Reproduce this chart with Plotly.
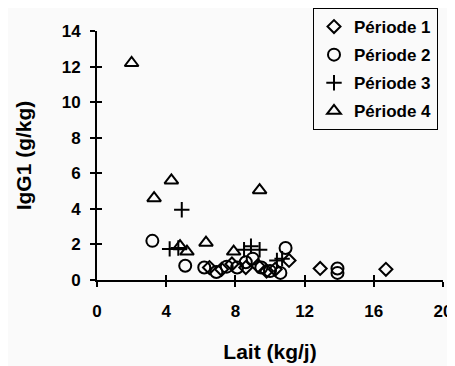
import plotly.graph_objects as go

# Période 1 (diamonds)
p1_x = [6.5, 7.2, 7.8, 8.6, 9.3, 9.8, 10.3, 11.1, 12.9, 16.7]
p1_y = [0.7, 0.6, 0.9, 0.7, 0.8, 0.5, 0.6, 1.1, 0.65, 0.6]
# Période 2 (circles)
p2_x = [3.2, 5.1, 6.2, 6.9, 7.5, 8.1, 8.6, 9.0, 9.5, 10.0, 10.6, 10.9, 13.9, 13.9]
p2_y = [2.2, 0.8, 0.7, 0.45, 0.75, 0.7, 1.0, 1.2, 0.7, 0.5, 0.4, 1.8, 0.65, 0.4]
# Période 3 (crosses)
p3_x = [4.2, 4.7, 4.9, 8.5, 8.9, 9.4, 10.4, 10.7]
p3_y = [1.75, 1.8, 3.95, 1.7, 1.9, 1.7, 1.1, 1.2]
# Période 4 (triangles)
p4_x = [2.0, 3.3, 4.3, 4.8, 5.2, 6.3, 7.9, 9.4]
p4_y = [12.2, 4.6, 5.6, 1.9, 1.6, 2.1, 1.6, 5.05]

names = ["Période 1", "Période 2", "Période 3", "Période 4"]
x_ticks = [0, 4, 8, 12, 16, 20]
y_ticks = [0, 2, 4, 6, 8, 10, 12, 14]

FONT = "Liberation Sans, Arial, sans-serif"

fig = go.Figure()
series = [
    (p1_x, p1_y, "diamond-open", 10),
    (p2_x, p2_y, "circle-open", 12),
    (p3_x, p3_y, "cross-thin-open", 11),
    (p4_x, p4_y, "triangle-up-open", 12),
]
for i, (xs, ys, sym, sz) in enumerate(series):
    fig.add_trace(go.Scatter(
        x=xs, y=ys, mode="markers", name=names[i], legendgroup=f"g{i}",
        marker=dict(symbol=sym, size=sz, color="black", line=dict(width=2, color="black")),
        cliponaxis=False,
    ))

axis_common = dict(
    showline=True, linecolor="black", linewidth=2,
    ticks="outside", ticklen=5, tickwidth=2, tickcolor="black",
    showgrid=False, zeroline=False, automargin=False,
    tickfont=dict(family=FONT, size=17, color="black", weight="bold"),
)

fig.update_layout(
    width=447, height=358,
    margin=dict(l=89, r=12, t=23, b=86, autoexpand=False),
    paper_bgcolor="#fafafa", plot_bgcolor="#fafafa",
    showlegend=True,
    legend=dict(
        xref="container", yref="container",
        x=430 / 447, xanchor="right", y=1.0, yanchor="top",
        bordercolor="black", borderwidth=1, bgcolor="rgba(0,0,0,0)",
        font=dict(family=FONT, size=17, color="black", weight="bold"),
        tracegroupgap=3, traceorder="grouped", itemwidth=30,
    ),
    xaxis=dict(
        range=[0, 20], tickvals=x_ticks, ticklabelstandoff=10,
        title=dict(text="Lait (kg/j)", font=dict(family=FONT, size=21, color="black", weight="bold"), standoff=24),
        **axis_common,
    ),
    yaxis=dict(
        range=[0, 14], tickvals=y_ticks, ticklabelstandoff=6,
        title=dict(text="IgG1 (g/kg)", font=dict(family=FONT, size=21, color="black", weight="bold"), standoff=24),
        **axis_common,
    ),
    xaxis2=dict(overlaying="x", matches="x", side="bottom", anchor="y", showline=False,
                ticks="inside", ticklen=5, tickwidth=2, tickcolor="black",
                tickvals=x_ticks, showticklabels=False, showgrid=False, zeroline=False),
    yaxis2=dict(overlaying="y", matches="y", side="left", anchor="x", showline=False,
                ticks="inside", ticklen=5, tickwidth=2, tickcolor="black",
                tickvals=y_ticks, showticklabels=False, showgrid=False, zeroline=False),
)
# invisible trace to activate the overlay axes for crossing ticks
fig.add_trace(go.Scatter(x=[None], y=[None], xaxis="x2", yaxis="y2", showlegend=False, hoverinfo="skip"))

fig.write_html("out.html")
